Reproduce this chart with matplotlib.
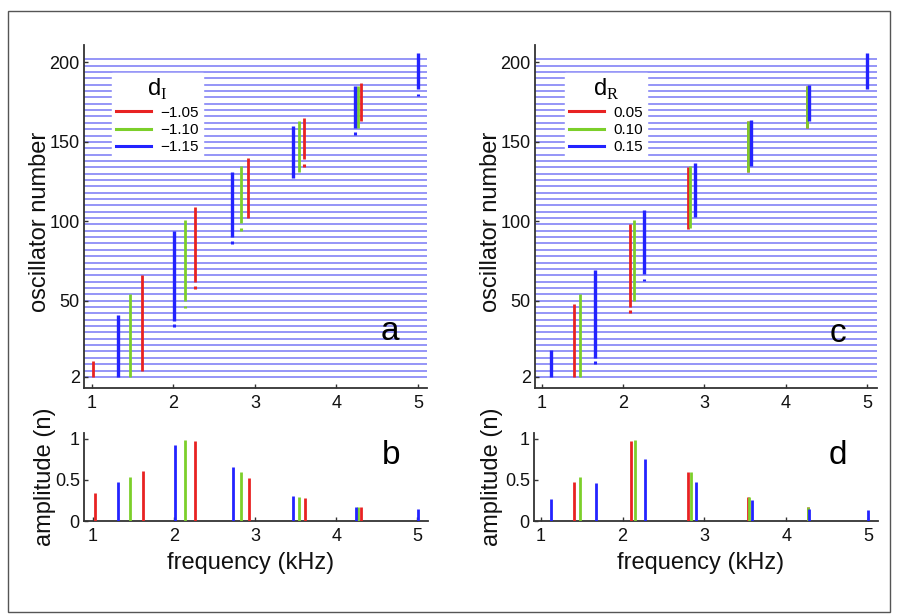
import numpy as np
import matplotlib
matplotlib.use("Agg")
import matplotlib.pyplot as plt
from matplotlib.patches import Rectangle
from matplotlib.lines import Line2D

plt.rcParams['font.family'] = ['Liberation Sans', 'DejaVu Sans']
plt.rcParams['mathtext.fontset'] = 'custom'
plt.rcParams['mathtext.rm'] = 'Liberation Serif'

# ---------------- data ----------------
osc_lines = list(range(2, 203, 4))          # background oscillator traces

# panel a (d_I): vertical segments freq, low, high oscillator
a_red_f = [1.02, 1.62, 2.26, 2.92, 3.60, 4.30]
a_red_lo = [2, 6, 62, 102, 139, 163]
a_red_hi = [12, 66, 109, 140, 165, 187]
a_green_f = [1.47, 2.14, 2.83, 3.54, 4.26]
a_green_lo = [2, 50, 99, 131, 159]
a_green_hi = [54, 101, 135, 163, 185]
a_blue_f = [1.32, 2.01, 2.72, 3.47, 4.23, 5.00]
a_blue_lo = [2, 37, 90, 127, 159, 183]
a_blue_hi = [41, 94, 131, 160, 185, 206]
# isolated single-oscillator dots below segments
a_red_dot_f = [2.26, 3.60]
a_red_dot = [58.5, 135]
a_green_dot_f = [2.14, 2.83]
a_green_dot = [46, 95]
a_blue_dot_f = [2.01, 2.72, 4.23, 5.00]
a_blue_dot = [34.5, 86.5, 155, 179.5]

# panel b: amplitudes
b_red_f = [1.02, 1.62, 2.26, 2.92, 3.61, 4.30]
b_red_amp = [0.34, 0.61, 0.97, 0.52, 0.28, 0.17]
b_green_f = [1.46, 2.13, 2.82, 3.54, 4.27]
b_green_amp = [0.53, 0.98, 0.60, 0.29, 0.17]
b_blue_f = [1.31, 2.01, 2.73, 3.47, 4.24, 5.01]
b_blue_amp = [0.47, 0.93, 0.655, 0.305, 0.165, 0.145]

# panel c (d_R)
c_red_f = [1.40, 2.09, 2.80, 3.53, 4.26]
c_red_lo = [2, 46, 95, 131, 159]
c_red_hi = [48, 98, 134, 163, 185]
c_green_f = [1.47, 2.14, 2.82, 3.54, 4.26]
c_green_lo = [2, 50, 96, 131, 159]
c_green_hi = [54, 101, 135, 163, 185]
c_blue_f = [1.11, 1.66, 2.26, 2.88, 3.57, 4.28, 5.00]
c_blue_lo = [2, 14, 67, 103, 135, 163, 183]
c_blue_hi = [19, 69, 107, 137, 164, 186, 206]
c_red_dot_f = [2.09]
c_red_dot = [43]
c_green_dot_f = []
c_green_dot = []
c_blue_dot_f = [1.66, 2.26]
c_blue_dot = [11, 63]

# panel d
d_red_f = [1.41, 2.10, 2.80, 3.53, 4.26]
d_red_amp = [0.48, 0.97, 0.59, 0.29, 0.17]
d_green_f = [1.48, 2.15, 2.83, 3.54, 4.27]
d_green_amp = [0.53, 0.98, 0.59, 0.29, 0.175]
d_blue_f = [1.12, 1.67, 2.27, 2.90, 3.58, 4.28, 5.00]
d_blue_amp = [0.27, 0.46, 0.75, 0.47, 0.25, 0.15, 0.135]

legend_a = ['\u22121.05', '\u22121.10', '\u22121.15']
legend_c = ['0.05', '0.10', '0.15']

RED, GREEN, BLUE = '#e82222', '#7ccf2a', '#2323ff'
LINE_C = '#8c8cf7'
SPINE = '#333333'

W, H = 898, 614
fig = plt.figure(figsize=(W / 100, H / 100), dpi=100)


def ax_px(l, t, r, b):
    return fig.add_axes([l / W, 1 - b / H, (r - l) / W, (b - t) / H])


def style(ax):
    for s in ('top', 'right'):
        ax.spines[s].set_visible(False)
    for s in ('left', 'bottom'):
        ax.spines[s].set_color(SPINE)
        ax.spines[s].set_linewidth(1.3)
    ax.tick_params(direction='in', length=3, width=1, colors=SPINE,
                   labelsize=13, labelcolor='#111111')
    ax.tick_params(axis='x', pad=5)
    ax.tick_params(axis='y', pad=3)


def top_panel(ax, series, dots, xlim, legend_labels, title, letter):
    ax.hlines(osc_lines, xlim[0], xlim[1], colors=LINE_C, lw=1.3, zorder=1)
    for (f, lo, hi), c, lw in zip(series, (RED, GREEN, BLUE), (2.0, 2.0, 2.4)):
        ax.vlines(f, lo, hi, colors=c, lw=lw, zorder=3)
    for (f, d), c in zip(dots, (RED, GREEN, BLUE)):
        ax.vlines(f, np.array(d) - 0.9, np.array(d) + 0.9, colors=c, lw=2.2, zorder=3)
    ax.set_xlim(*xlim)
    ax.set_ylim(-5, 211)
    ax.set_xticks([1, 2, 3, 4, 5])
    ax.set_yticks([2, 50, 100, 150, 200])
    style(ax)
    handles = [Line2D([], [], color=c, lw=2.2) for c in (RED, GREEN, BLUE)]
    leg = ax.legend(handles, legend_labels, title=title, loc='upper left',
                    bbox_to_anchor=legend_anchor[letter], borderaxespad=0,
                    fontsize=11, title_fontsize=17, frameon=True,
                    fancybox=False, framealpha=1, edgecolor='white',
                    handlelength=2.3, labelspacing=0.22, handletextpad=0.6,
                    borderpad=0.25)
    leg.set_zorder(5)
    ax.text(*letter_pos[letter], letter, transform=ax.transAxes,
            fontsize=24, ha='center', va='center')


def bottom_panel(ax, series, xlim, letter):
    for (f, a), c in zip(series, (RED, GREEN, BLUE)):
        ax.vlines(f, 0, a, colors=c, lw=2.0, zorder=3)
    ax.set_xlim(*xlim)
    ax.set_ylim(0, 1.07)
    ax.set_xticks([1, 2, 3, 4, 5])
    ax.set_yticks([0, 0.5, 1])
    ax.set_yticklabels(['0', '0.5', '1'])
    style(ax)
    ax.text(*letter_pos[letter], letter, transform=ax.transAxes,
            fontsize=24, ha='center', va='center')


legend_anchor = {'a': (0.082, 0.918), 'c': (0.088, 0.918)}
letter_pos = {'a': (0.892, 0.165), 'c': (0.886, 0.159),
              'b': (0.892, 0.75), 'd': (0.884, 0.75)}

axa = ax_px(84, 45, 427, 388)
top_panel(axa, [(a_red_f, a_red_lo, a_red_hi), (a_green_f, a_green_lo, a_green_hi),
                (a_blue_f, a_blue_lo, a_blue_hi)],
          [(a_red_dot_f, a_red_dot), (a_green_dot_f, a_green_dot),
           (a_blue_dot_f, a_blue_dot)],
          (0.905, 5.11), legend_a, 'd$_{\\mathrm{I}}$', 'a')

axc = ax_px(535, 45, 877, 388)
top_panel(axc, [(c_red_f, c_red_lo, c_red_hi), (c_green_f, c_green_lo, c_green_hi),
                (c_blue_f, c_blue_lo, c_blue_hi)],
          [(c_red_dot_f, c_red_dot), (c_green_dot_f, c_green_dot),
           (c_blue_dot_f, c_blue_dot)],
          (0.918, 5.12), legend_c, 'd$_{\\mathrm{R}}$', 'c')

axb = ax_px(84, 433, 428, 521)
bottom_panel(axb, [(b_red_f, b_red_amp), (b_green_f, b_green_amp),
                   (b_blue_f, b_blue_amp)], (0.889, 5.13), 'b')

axd = ax_px(534, 433, 878, 521)
bottom_panel(axd, [(d_red_f, d_red_amp), (d_green_f, d_green_amp),
                   (d_blue_f, d_blue_amp)], (0.918, 5.12), 'd')

# axis labels
lab = dict(fontsize=17, color='#111111', ha='center', va='center')
fig.text(40 / W, 1 - 222 / H, 'oscillator number', rotation=90, **lab)
fig.text(491 / W, 1 - 222 / H, 'oscillator number', rotation=90, **lab)
fig.text(45 / W, 1 - 477 / H, 'amplitude (n)', rotation=90, **lab)
fig.text(492 / W, 1 - 477 / H, 'amplitude (n)', rotation=90, **lab)
fig.text(251 / W, 1 - 563 / H, 'frequency (kHz)', **lab)
fig.text(701 / W, 1 - 563 / H, 'frequency (kHz)', **lab)

# outer frame
fig.add_artist(Rectangle((7.5 / W, 2.5 / H), (890 - 7.5) / W, (611.5 - 10.5) / H,
                         transform=fig.transFigure, fill=False,
                         edgecolor='#555555', lw=1))

fig.savefig('out.png', dpi=100)
